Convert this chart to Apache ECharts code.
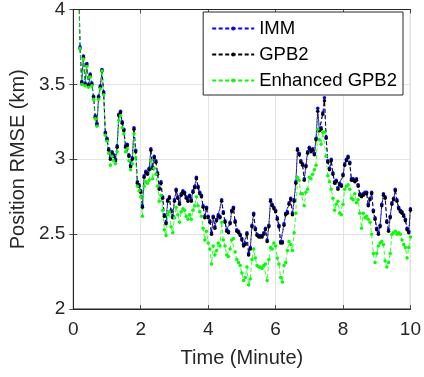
<!DOCTYPE html>
<html>
<head>
<meta charset="utf-8">
<script src="https://cdn.jsdelivr.net/npm/echarts@6/dist/echarts.min.js"></script>
<style>
  html, body { margin: 0; padding: 0; background: #fff; }
  #chart { width: 424px; height: 377px; }
</style>
</head>
<body>
<div id="chart"></div>
<script>
// sampling grid: first sample at 0.15 min, then every 3 s (0.05 min)
const tStart = 0.15
const tStep = 0.05

const xTicks = [0, 2, 4, 6, 8, 10]
const yTicks = [2, 2.5, 3, 3.5, 4]
const seriesNames = ['IMM', 'GPB2', 'Enhanced GPB2']

const imm = [
  4.30, 3.75, 3.52, 3.69, 3.51, 3.64, 3.50, 3.57, 3.51, 3.42, 3.29, 3.24, 3.42, 3.49, 3.60, 3.45, 3.18, 3.14,
  3.07, 3.01, 3.05, 3.03, 3.00, 3.09, 3.30, 3.32, 3.25, 3.20, 3.09, 3.10, 3.03, 2.96, 3.01, 3.21, 3.06, 2.85, 2.83, 2.79,
  2.69, 2.89, 2.92, 2.91, 2.94, 3.07, 2.95, 3.02, 2.99, 2.91, 2.81, 2.85, 2.75, 2.63, 2.58, 2.73, 2.75, 2.66, 2.62, 2.73,
  2.80, 2.75, 2.71, 2.77, 2.79, 2.78, 2.75, 2.73, 2.76, 2.73, 2.79, 2.82, 2.88, 2.82, 2.78, 2.76, 2.69, 2.62, 2.68, 2.62,
  2.59, 2.51, 2.62, 2.55, 2.60, 2.63, 2.62, 2.73, 2.65, 2.59, 2.53, 2.52, 2.58, 2.66, 2.68, 2.59, 2.53, 2.52, 2.50, 2.47,
  2.43, 2.44, 2.51, 2.37, 2.41, 2.56, 2.64, 2.54, 2.50, 2.49, 2.49, 2.49, 2.51, 2.54, 2.46, 2.56, 2.73, 2.70, 2.68, 2.66,
  2.61, 2.56, 2.45, 2.45, 2.57, 2.64, 2.65, 2.71, 2.74, 2.64, 2.73, 2.85, 3.07, 3.04, 2.99, 2.97, 2.87, 2.96, 3.05, 3.08,
  3.06, 3.07, 3.04, 3.14, 3.34, 3.20, 3.21, 3.31, 3.41, 3.15, 2.99, 2.94, 3.00, 2.91, 2.85, 2.86, 2.81, 2.84, 2.83, 2.90,
  2.97, 3.00, 3.02, 2.98, 2.87, 2.87, 2.86, 2.87, 2.83, 2.77, 2.76, 2.77, 2.78, 2.78, 2.70, 2.74, 2.78, 2.66, 2.61, 2.54,
  2.51, 2.56, 2.70, 2.77, 2.75, 2.59, 2.53, 2.62, 2.71, 2.74, 2.80, 2.73, 2.68, 2.66, 2.65, 2.63, 2.60, 2.54, 2.52, 2.67
]

const gpb2 = [
  4.30, 3.74, 3.51, 3.68, 3.50, 3.63, 3.49, 3.56, 3.50, 3.41, 3.28, 3.23, 3.41, 3.48, 3.59, 3.44, 3.17, 3.13,
  3.06, 3.00, 3.04, 3.02, 2.99, 3.08, 3.29, 3.31, 3.24, 3.19, 3.08, 3.09, 3.02, 2.95, 3.00, 3.20, 3.05, 2.84, 2.82, 2.78,
  2.68, 2.88, 2.91, 2.90, 2.93, 3.06, 2.94, 3.01, 2.98, 2.90, 2.80, 2.84, 2.74, 2.62, 2.57, 2.72, 2.74, 2.65, 2.61, 2.72,
  2.79, 2.74, 2.70, 2.76, 2.78, 2.77, 2.74, 2.72, 2.75, 2.72, 2.78, 2.81, 2.87, 2.81, 2.77, 2.75, 2.68, 2.61, 2.67, 2.61,
  2.58, 2.50, 2.61, 2.54, 2.59, 2.62, 2.61, 2.72, 2.64, 2.58, 2.52, 2.51, 2.57, 2.65, 2.67, 2.58, 2.52, 2.51, 2.49, 2.46,
  2.42, 2.43, 2.50, 2.36, 2.40, 2.55, 2.63, 2.53, 2.49, 2.48, 2.48, 2.48, 2.50, 2.53, 2.45, 2.55, 2.72, 2.69, 2.67, 2.65,
  2.60, 2.55, 2.44, 2.44, 2.56, 2.63, 2.64, 2.70, 2.73, 2.63, 2.72, 2.84, 3.06, 3.03, 2.98, 2.96, 2.86, 2.95, 3.04, 3.07,
  3.05, 3.06, 3.03, 3.13, 3.32, 3.19, 3.20, 3.30, 3.39, 3.14, 2.98, 2.93, 2.99, 2.90, 2.84, 2.85, 2.80, 2.83, 2.82, 2.89,
  2.96, 2.99, 3.01, 2.97, 2.86, 2.86, 2.85, 2.86, 2.82, 2.76, 2.75, 2.76, 2.77, 2.77, 2.69, 2.73, 2.77, 2.65, 2.60, 2.53,
  2.50, 2.55, 2.69, 2.76, 2.74, 2.58, 2.52, 2.61, 2.70, 2.73, 2.79, 2.72, 2.67, 2.65, 2.64, 2.62, 2.59, 2.53, 2.51, 2.66
]

const enhanced = [
  4.30, 3.74, 3.50, 3.67, 3.49, 3.62, 3.48, 3.55, 3.49, 3.40, 3.27, 3.22, 3.40, 3.47, 3.59, 3.43, 3.16, 3.12,
  3.04, 2.96, 3.02, 2.99, 2.97, 3.05, 3.26, 3.29, 3.21, 3.17, 3.05, 3.07, 2.99, 2.93, 2.97, 3.17, 3.01, 2.82, 2.79, 2.75,
  2.62, 2.82, 2.85, 2.84, 2.86, 2.99, 2.87, 2.94, 2.90, 2.82, 2.72, 2.76, 2.66, 2.53, 2.49, 2.63, 2.65, 2.55, 2.51, 2.61,
  2.68, 2.63, 2.58, 2.65, 2.67, 2.66, 2.62, 2.60, 2.63, 2.60, 2.66, 2.69, 2.75, 2.69, 2.65, 2.62, 2.54, 2.46, 2.52, 2.44,
  2.40, 2.30, 2.42, 2.36, 2.39, 2.44, 2.42, 2.58, 2.46, 2.42, 2.36, 2.35, 2.40, 2.46, 2.47, 2.38, 2.33, 2.31, 2.29, 2.24,
  2.19, 2.21, 2.28, 2.16, 2.20, 2.33, 2.40, 2.34, 2.29, 2.28, 2.28, 2.27, 2.29, 2.30, 2.19, 2.33, 2.41, 2.40, 2.44, 2.42,
  2.34, 2.30, 2.21, 2.18, 2.29, 2.31, 2.39, 2.45, 2.43, 2.39, 2.51, 2.64, 2.88, 2.86, 2.77, 2.77, 2.69, 2.78, 2.80, 2.88,
  2.87, 2.90, 2.93, 2.96, 3.20, 3.13, 3.10, 3.18, 3.18, 3.02, 2.89, 2.85, 2.80, 2.74, 2.66, 2.70, 2.72, 2.64, 2.63, 2.70,
  2.80, 2.82, 2.83, 2.80, 2.74, 2.73, 2.77, 2.71, 2.73, 2.64, 2.54, 2.64, 2.61, 2.62, 2.60, 2.58, 2.50, 2.37, 2.31, 2.37,
  2.42, 2.44, 2.45, 2.43, 2.32, 2.28, 2.31, 2.37, 2.50, 2.51, 2.52, 2.50, 2.51, 2.50, 2.46, 2.43, 2.41, 2.34, 2.41, 2.48
]

const colors = ['#0000ff', '#000000', '#00ff00']
const textColor = '#262626'
const font = '"Liberation Sans", Arial, sans-serif'

function pairs(values) {
  return values.map((v, i) => [+(tStart + i * tStep).toFixed(2), v])
}

function lineSeries(name, values, color) {
  return {
    name,
    type: 'line',
    data: pairs(values),
    symbol: 'circle',
    symbolSize: 3.5,
    showSymbol: true,
    clip: true,
    animation: false,
    itemStyle: { color },
    lineStyle: { color, width: 0.8, type: [4, 2.5] },
  }
}

const chart = echarts.init(document.getElementById('chart'), null, { renderer: 'canvas' })

const tickStyle = { inside: true, length: 4, lineStyle: { color: textColor, width: 0.8 } }

chart.setOption({
  animation: false,
  grid: {
    left: 72, right: 12, top: 5, bottom: 68,
    show: true, borderColor: textColor, borderWidth: 1, backgroundColor: '#fff',
  },
  legend: {
    data: seriesNames,
    orient: 'vertical',
    right: 21,
    top: 12,
    itemWidth: 42,
    itemHeight: 5,
    itemGap: 7,
    itemStyle: { borderWidth: 0 },
    padding: [7, 6, 5, 8],
    borderColor: textColor,
    borderWidth: 1,
    borderRadius: 0,
    backgroundColor: '#fff',
    textStyle: { color: '#000', fontSize: 18.5, fontFamily: font },
  },
  xAxis: [
    {
      type: 'value', min: xTicks[0], max: xTicks[xTicks.length - 1], interval: 2,
      name: 'Time (Minute)', nameLocation: 'middle', nameGap: 39,
      nameTextStyle: { color: textColor, fontSize: 20, fontFamily: font },
      axisLine: { lineStyle: { color: textColor, width: 1 } },
      axisTick: tickStyle,
      axisLabel: { color: textColor, fontSize: 19, fontFamily: font, margin: 11 },
      splitLine: { show: true, lineStyle: { color: '#e3e3e3', width: 1 } },
    },
    {
      type: 'value', position: 'top', min: 0, max: 10, interval: 2,
      axisLine: { show: true, lineStyle: { color: textColor } },
      axisTick: tickStyle, axisLabel: { show: false }, splitLine: { show: false },
    },
  ],
  yAxis: [
    {
      type: 'value', min: yTicks[0], max: yTicks[yTicks.length - 1], interval: 0.5,
      name: 'Position RMSE (km)', nameLocation: 'middle', nameGap: 43, nameRotate: 90,
      nameTextStyle: { color: textColor, fontSize: 20, fontFamily: font },
      axisLine: { show: true, lineStyle: { color: textColor, width: 1 } },
      axisTick: tickStyle,
      axisLabel: { color: textColor, fontSize: 19, fontFamily: font, margin: 8 },
      splitLine: { show: true, lineStyle: { color: '#e3e3e3', width: 1 } },
    },
    {
      type: 'value', position: 'right', min: 2, max: 4, interval: 0.5,
      axisLine: { show: true, lineStyle: { color: textColor } },
      axisTick: tickStyle, axisLabel: { show: false }, splitLine: { show: false },
    },
  ],
  series: [
    lineSeries(seriesNames[0], imm, colors[0]),
    lineSeries(seriesNames[1], gpb2, colors[1]),
    lineSeries(seriesNames[2], enhanced, colors[2]),
  ],
})

window.addEventListener('resize', () => chart.resize())
</script>
</body>
</html>
